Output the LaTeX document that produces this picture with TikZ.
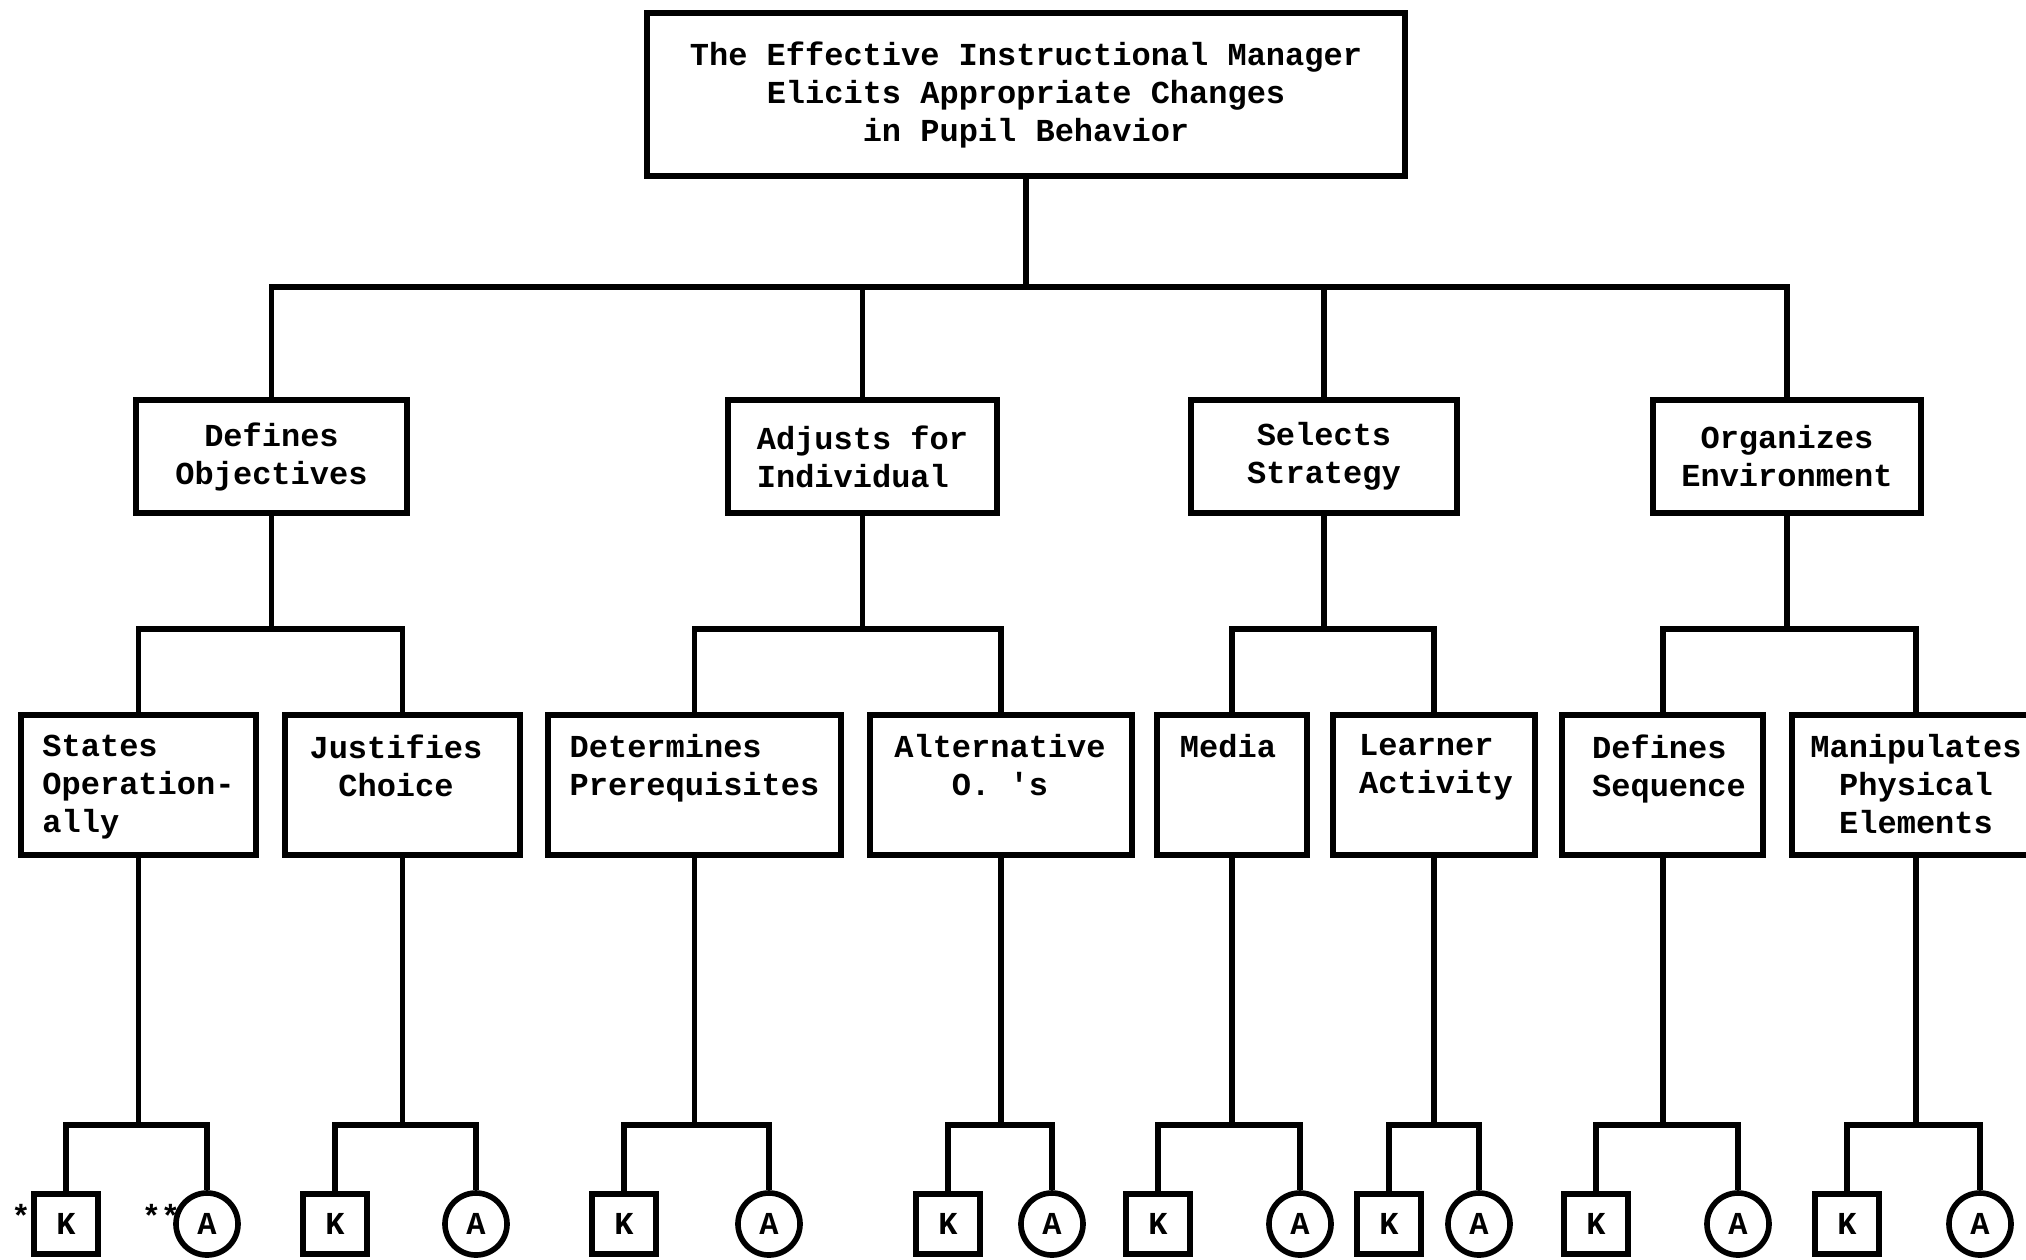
\documentclass[tikz,border=0pt]{standalone}
\usepackage{fontspec}
\setmonofont{Liberation Mono}
\begin{document}
\begin{tikzpicture}[x=0.01cm,y=-0.01cm,
  txt/.style={font=\ttfamily\bfseries\fontsize{9.1}{10.8}\selectfont, inner sep=0pt},
  box/.style={draw, rectangle, line width=1.6pt, inner sep=0pt},
  lvthree/.style={box, minimum height=1.40cm},
  kbox/.style={draw, rectangle, line width=1.6pt, minimum width=0.64cm, minimum height=0.60cm, inner sep=0pt,
    font=\ttfamily\bfseries\fontsize{9.1}{10.8}\selectfont},
  abox/.style={draw, circle, line width=1.6pt, minimum size=0.62cm, inner sep=0pt,
    font=\ttfamily\bfseries\fontsize{9.1}{10.8}\selectfont},
  ln/.style={line width=1.7pt, line join=miter}]
\useasboundingbox (0,0) rectangle (2026,1259);

% bar levels
\coordinate (r1) at (0,287);
\coordinate (r2) at (0,629);
\coordinate (r3) at (0,1125);

% top box
\node[box, txt, align=center, minimum width=7.58cm, minimum height=1.63cm] (top) at (1026,94.5)
  {The Effective Instructional Manager\\Elicits Appropriate Changes\\in Pupil Behavior};

% level 2
\node[box, txt, align=center, minimum width=2.71cm, minimum height=1.13cm] (do) at (271.5,456.5) {Defines\\Objectives};
\node[box, txt, align=left, minimum width=2.69cm, minimum height=1.13cm] (ai) at (862.5,456.5) {Adjusts for\\Individual};
\node[box, txt, align=center, minimum width=2.66cm, minimum height=1.13cm] (ss) at (1324,456.5) {Selects\\Strategy};
\node[box, txt, align=center, minimum width=2.68cm, minimum height=1.13cm] (oe) at (1787,456.5) {Organizes\\Environment};

% level 3 boxes
\node[lvthree, minimum width=2.35cm] (so) at (138.5,785) {};
\node[lvthree, minimum width=2.35cm] (jc) at (402.5,785) {};
\node[lvthree, minimum width=2.93cm] (dp) at (694.5,785) {};
\node[lvthree, minimum width=2.62cm] (ao) at (1001,785) {};
\node[lvthree, minimum width=1.50cm] (me) at (1232,785) {};
\node[lvthree, minimum width=2.02cm] (la) at (1434,785) {};
\node[lvthree, minimum width=2.01cm] (ds) at (1662.5,785) {};
\node[lvthree, minimum width=2.48cm] (mp) at (1916,785) {};

% level 3 texts
\node[txt, align=left, anchor=north] (sot) at (138.5,734) {States\\Operation-\\ally};
\node[txt, align=center, anchor=north] (jct) at (396,734) {Justifies\\Choice};
\node[txt, align=left, anchor=north] (dpt) at (694.5,734) {Determines\\Prerequisites};
\node[txt, align=center, anchor=north] (aot) at (1000,734) {Alternative\\O. 's};
\node[txt, align=center, anchor=north] (met) at (1228,734) {Media};
\node[txt, align=left, anchor=north] (lat) at (1436,734) {Learner\\Activity};
\node[txt, align=left, anchor=north] (dst) at (1669,734) {Defines\\Sequence};
\node[txt, align=center, anchor=north] (mpt) at (1916,734) {Manipulates\\Physical\\Elements};

% level 4
\node[kbox] (k1) at (66,1224) {K};   \node[abox] (a1) at (207,1224) {A};
\node[kbox] (k2) at (335,1224) {K};  \node[abox] (a2) at (476,1224) {A};
\node[kbox] (k3) at (624,1224) {K};  \node[abox] (a3) at (769,1224) {A};
\node[kbox] (k4) at (948,1224) {K};  \node[abox] (a4) at (1052,1224) {A};
\node[kbox] (k5) at (1158,1224) {K}; \node[abox] (a5) at (1300,1224) {A};
\node[kbox] (k6) at (1389,1224) {K}; \node[abox] (a6) at (1479,1224) {A};
\node[kbox] (k7) at (1596,1224) {K}; \node[abox] (a7) at (1738,1224) {A};
\node[kbox] (k8) at (1847,1224) {K}; \node[abox] (a8) at (1980,1224) {A};

\node[txt, anchor=base] (ast1) at (21,1227) {*};
\node[txt, anchor=base] (ast2) at (161,1227) {**};

% connectors level 1 -> 2
\draw[ln] (top.south) -- (top.south |- r1);
\draw[ln] (do.north) |- (oe.north |- r1) -- (oe.north);
\draw[ln] (ai.north) -- (ai.north |- r1);
\draw[ln] (ss.north) -- (ss.north |- r1);

% level 2 -> 3
\draw[ln] (do.south) -- (do.south |- r2);
\draw[ln] (so.north) |- (jc.north |- r2) -- (jc.north);
\draw[ln] (ai.south) -- (ai.south |- r2);
\draw[ln] (dp.north) |- (ao.north |- r2) -- (ao.north);
\draw[ln] (ss.south) -- (ss.south |- r2);
\draw[ln] (me.north) |- (la.north |- r2) -- (la.north);
\draw[ln] (oe.south) -- (oe.south |- r2);
\draw[ln] (ds.north) |- (mp.north |- r2) -- (mp.north);

% level 3 -> 4
\foreach \p/\k/\a in {so/k1/a1, jc/k2/a2, dp/k3/a3, ao/k4/a4, me/k5/a5, la/k6/a6, ds/k7/a7, mp/k8/a8}{
  \draw[ln] (\p.south) -- (\p.south |- r3);
  \draw[ln] (\k.north) |- (\a.north |- r3) -- (\a.north);
}
\end{tikzpicture}
\end{document}
